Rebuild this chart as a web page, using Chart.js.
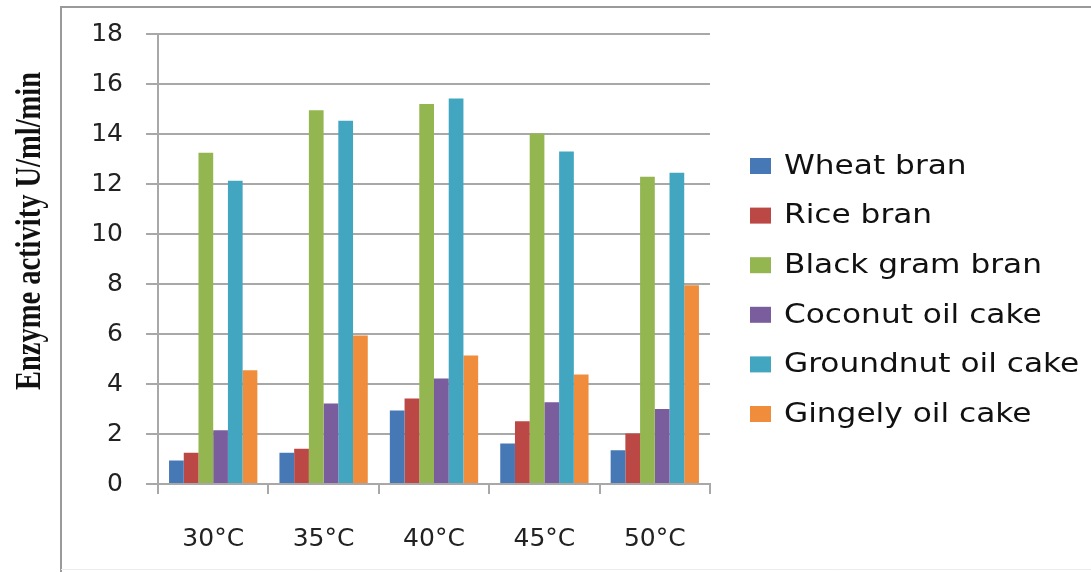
<!DOCTYPE html>
<html>
<head>
<meta charset="utf-8">
<style>
  html, body { margin: 0; padding: 0; background: #ffffff; }
  #wrap { position: relative; width: 1091px; height: 572px; }
</style>
<script src="https://cdn.jsdelivr.net/npm/chart.js@4.4.1/dist/chart.umd.min.js"></script>
</head>
<body>
<div id="wrap"><canvas id="chart" width="1091" height="572"></canvas></div>
<script>
// Enzyme activity by incubation temperature for each substrate
const temperatures = ['30°C', '35°C', '40°C', '45°C', '50°C'];
const wheatBran      = [0.94, 1.25, 2.94, 1.62, 1.35];
const riceBran       = [1.25, 1.41, 3.42, 2.51, 2.02];
const blackGramBran  = [13.25, 14.95, 15.2, 14.02, 12.29];
const coconutOilCake = [2.15, 3.22, 4.22, 3.27, 3.0];
const groundnutOilCake = [12.13, 14.53, 15.42, 13.3, 12.45];
const gingelyOilCake = [4.55, 5.94, 5.14, 4.38, 7.95];
const yTicks = [0, 2, 4, 6, 8, 10, 12, 14, 16, 18];
const yTitle = 'Enzyme activity U/ml/min';

const seriesNames = ['Wheat bran', 'Rice bran', 'Black gram bran', 'Coconut oil cake', 'Groundnut oil cake', 'Gingely oil cake'];
const seriesValues = [wheatBran, riceBran, blackGramBran, coconutOilCake, groundnutOilCake, gingelyOilCake];
const seriesColors = ['#4778b6', '#bb4845', '#93b650', '#7a5d9c', '#43a6c1', '#f08d3c'];

const gridGray = '#a8a8a8';

// Page frame, background and side legend / rotated axis title
const decorations = {
  id: 'decorations',
  beforeDraw(chart) {
    const ctx = chart.ctx;
    ctx.save();
    ctx.fillStyle = '#ffffff';
    ctx.fillRect(0, 0, chart.width, chart.height);
    ctx.strokeStyle = '#9a9a9a';
    ctx.lineWidth = 2;
    ctx.beginPath();
    ctx.moveTo(61, chart.height);
    ctx.lineTo(61, 7);
    ctx.lineTo(chart.width, 7);
    ctx.stroke();
    ctx.strokeStyle = '#ececec';
    ctx.lineWidth = 1;
    ctx.beginPath();
    ctx.moveTo(61, chart.height - 2.5);
    ctx.lineTo(chart.width, chart.height - 2.5);
    ctx.stroke();
    ctx.restore();
  },
  afterDraw(chart) {
    const ctx = chart.ctx;
    // Y axis title (bold serif, rotated)
    ctx.save();
    ctx.translate(31, 231);
    ctx.scale(1.25, 1);
    ctx.rotate(-Math.PI / 2);
    ctx.font = 'bold 28.5px "Liberation Serif", "Times New Roman", serif';
    ctx.fillStyle = '#111111';
    ctx.textAlign = 'center';
    ctx.textBaseline = 'middle';
    ctx.fillText(yTitle, 0, 0);
    ctx.restore();

    // Legend on the right
    const boxX = 750, textX = 784, firstY = 166, step = 49.6;
    chart.data.datasets.forEach((ds, i) => {
      const cy = firstY + i * step;
      ctx.save();
      ctx.fillStyle = ds.backgroundColor;
      ctx.fillRect(boxX, cy - 8, 21, 16);
      ctx.translate(textX, cy);
      ctx.scale(1.2, 1);
      ctx.font = '26px "DejaVu Sans", sans-serif';
      ctx.fillStyle = '#111111';
      ctx.textAlign = 'left';
      ctx.textBaseline = 'middle';
      ctx.fillText(ds.label, 0, 1);
      ctx.restore();
    });
  }
};

new Chart(document.getElementById('chart'), {
  type: 'bar',
  data: {
    labels: temperatures,
    datasets: seriesNames.map((name, i) => ({
      label: name,
      data: seriesValues[i],
      backgroundColor: seriesColors[i],
      borderWidth: 0
    }))
  },
  options: {
    responsive: false,
    devicePixelRatio: 1,
    animation: false,
    layout: { padding: { top: 34, right: 381, bottom: 0, left: 0 } },
    datasets: { bar: { categoryPercentage: 0.8, barPercentage: 1.0 } },
    plugins: {
      legend: { display: false },
      tooltip: { enabled: false }
    },
    scales: {
      x: {
        afterFit(scale) { scale.height = 88; },
        grid: {
          display: true,
          drawOnChartArea: false,
          drawTicks: true,
          tickLength: 10,
          color: gridGray,
          lineWidth: 2
        },
        border: { display: true, color: gridGray, width: 2 },
        ticks: {
          padding: 30,
          color: '#222222',
          font: { family: '"DejaVu Sans", sans-serif', size: 25 }
        }
      },
      y: {
        min: 0,
        max: 18,
        afterFit(scale) {
          scale.width = 158;
          // the outer labels fit inside the frame, so no extra room is reserved for them
          scale.paddingTop = 0;
          scale.paddingBottom = 0;
        },
        afterBuildTicks(scale) { scale.ticks = yTicks.map(v => ({ value: v })); },
        grid: {
          color: gridGray,
          lineWidth: 2,
          drawTicks: true,
          tickLength: 12
        },
        border: { display: true, color: gridGray, width: 2 },
        ticks: {
          padding: 23,
          color: '#222222',
          font: { family: '"DejaVu Sans", sans-serif', size: 25 }
        }
      }
    }
  },
  plugins: [decorations]
});
</script>
</body>
</html>
